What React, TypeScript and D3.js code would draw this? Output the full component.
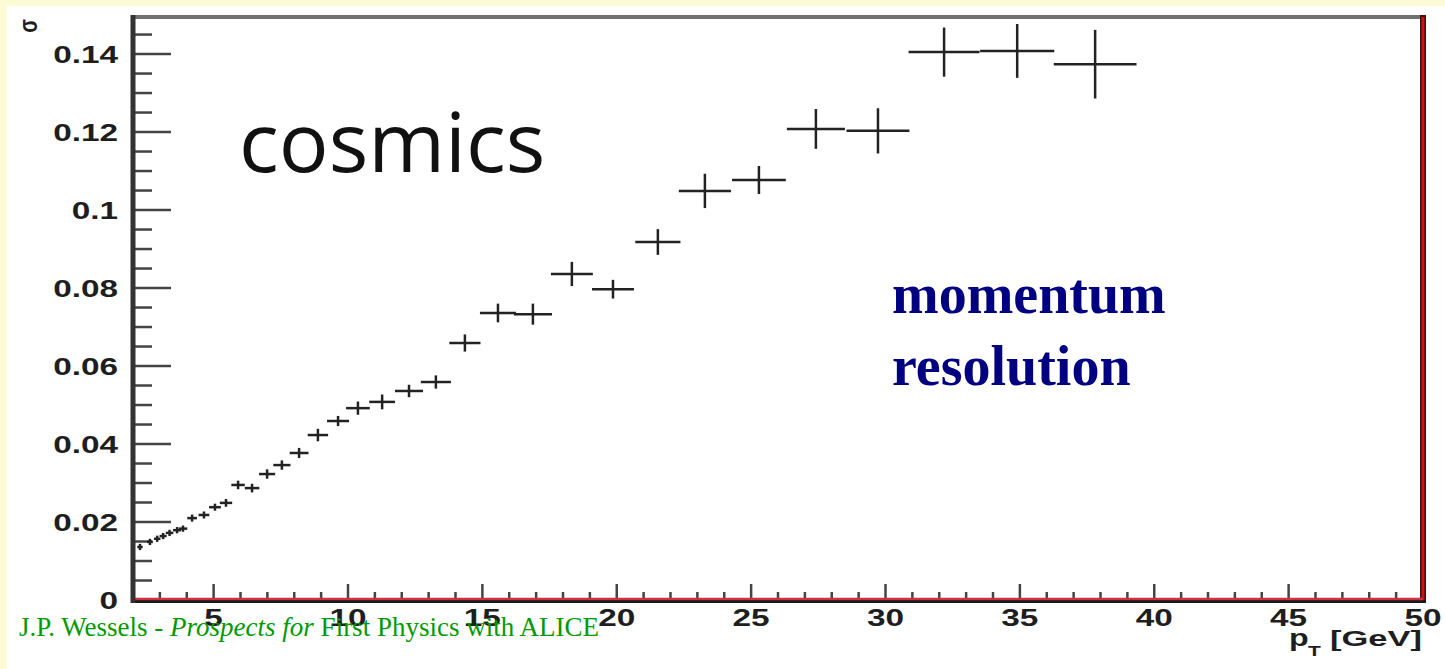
import React from "react";
import * as d3 from "d3";

const ptCenters = [2.26, 2.63, 2.9, 3.12, 3.36, 3.64, 3.86, 4.2, 4.64, 5.05, 5.46, 5.91, 6.43, 6.99, 7.54, 8.18, 8.88, 9.63, 10.37, 11.27, 12.27, 13.27, 14.35, 15.58, 16.88, 18.33, 19.86, 21.53, 23.28, 25.29, 27.41, 29.72, 32.18, 34.9, 37.8];
const ptHalfWidths = [0.1, 0.11, 0.12, 0.13, 0.14, 0.15, 0.16, 0.18, 0.2, 0.22, 0.23, 0.25, 0.27, 0.3, 0.32, 0.35, 0.38, 0.41, 0.44, 0.48, 0.52, 0.56, 0.58, 0.67, 0.71, 0.78, 0.78, 0.84, 0.97, 1.0, 1.08, 1.17, 1.32, 1.38, 1.54];
const sigmaValues = [0.0136, 0.0149, 0.0157, 0.0164, 0.0172, 0.0179, 0.0183, 0.021, 0.0218, 0.0238, 0.0249, 0.0295, 0.0287, 0.0323, 0.0346, 0.0377, 0.0423, 0.0459, 0.0492, 0.0508, 0.0536, 0.0559, 0.0659, 0.0736, 0.0733, 0.0836, 0.0797, 0.0918, 0.1049, 0.1077, 0.1208, 0.1203, 0.1405, 0.1408, 0.1374];
const sigmaErrors = [0.0008, 0.0008, 0.0008, 0.0008, 0.0008, 0.0008, 0.0008, 0.0009, 0.0009, 0.0009, 0.001, 0.0011, 0.0011, 0.0012, 0.0012, 0.0013, 0.0016, 0.0013, 0.0017, 0.0019, 0.0016, 0.0017, 0.0022, 0.0024, 0.0027, 0.0031, 0.0024, 0.0033, 0.0044, 0.0036, 0.0051, 0.0058, 0.0063, 0.0069, 0.0088];

const xTickLabels = [5, 10, 15, 20, 25, 30, 35, 40, 45, 50];
const yTickLabels = ["0", "0.02", "0.04", "0.06", "0.08", "0.1", "0.12", "0.14"];
const yTickValues = [0, 0.02, 0.04, 0.06, 0.08, 0.1, 0.12, 0.14];

const xDomain = [2, 50];
const yDomain = [0, 0.1495];

export default function App() {
  const W = 1445, H = 669;
  const left = 133, right = 1423, top = 17, bottom = 600;
  const x = d3.scaleLinear().domain(xDomain).range([left, right]);
  const y = d3.scaleLinear().domain(yDomain).range([bottom, top]);

  const xMinor = d3.range(3, 50, 1).filter((v) => v % 5 !== 0);
  const yMinor = d3.range(0.005, 0.1495, 0.005).filter((v) => Math.abs(v / 0.02 - Math.round(v / 0.02)) > 0.01);

  const labelFont = "'Liberation Sans', Arial, Helvetica, sans-serif";

  return (
    <svg width={W} height={H} style={{ position: "absolute", left: 0, top: 0 }}>
      <rect x={0} y={0} width={W} height={H} fill="#fdfbd6" />
      <rect x={7} y={6} width={W - 7} height={H - 6} fill="#ffffff" />

      {/* y ticks */}
      {yMinor.map((v, i) => (
        <line key={"ym" + i} x1={left} x2={left + 19} y1={y(v)} y2={y(v)} stroke="#444" strokeWidth={2.5} />
      ))}
      {yTickValues.map((v, i) => (
        <line key={"yM" + i} x1={left} x2={left + 38} y1={y(v)} y2={y(v)} stroke="#444" strokeWidth={2.5} />
      ))}
      {/* x ticks */}
      {xMinor.map((v, i) => (
        <line key={"xm" + i} x1={x(v)} x2={x(v)} y1={bottom} y2={bottom - 8} stroke="#444" strokeWidth={2.5} />
      ))}
      {xTickLabels.map((v, i) => (
        <line key={"xM" + i} x1={x(v)} x2={x(v)} y1={bottom} y2={bottom - 16} stroke="#444" strokeWidth={2.5} />
      ))}

      {/* frame */}
      <line x1={left} x2={right} y1={top} y2={top} stroke="#707070" strokeWidth={4} />
      <line x1={right} x2={right} y1={top - 2} y2={bottom + 3} stroke="#3a1010" strokeWidth={6} />
      <line x1={right} x2={right} y1={top} y2={bottom} stroke="#cc1111" strokeWidth={3} />
      <line x1={left} x2={right + 3} y1={bottom + 1.5} y2={bottom + 1.5} stroke="#1a1a1a" strokeWidth={3} />
      <line x1={left} x2={right} y1={bottom - 1} y2={bottom - 1} stroke="#d03040" strokeWidth={2.5} />
      <line x1={left} x2={left} y1={top - 2} y2={bottom + 3} stroke="#333" strokeWidth={5} />

      {/* data */}
      {ptCenters.map((pt, i) => (
        <g key={"p" + i} stroke="#222" strokeWidth={2.5}>
          <line x1={x(pt - ptHalfWidths[i])} x2={x(pt + ptHalfWidths[i])} y1={y(sigmaValues[i])} y2={y(sigmaValues[i])} />
          <line x1={x(pt)} x2={x(pt)} y1={y(sigmaValues[i] - sigmaErrors[i])} y2={y(sigmaValues[i] + sigmaErrors[i])} />
        </g>
      ))}

      {/* y tick labels */}
      {yTickValues.map((v, i) => (
        <text key={"yl" + i} transform={`translate(118, ${y(v) + 8.5}) scale(1.45,1)`} textAnchor="end"
          fontFamily={labelFont} fontWeight="bold" fontSize={23} fill="#1e1e1e">{yTickLabels[i]}</text>
      ))}
      {/* x tick labels */}
      {xTickLabels.map((v, i) => (
        <text key={"xl" + i} transform={`translate(${x(v)}, 626) scale(1.45,1)`} textAnchor="middle"
          fontFamily={labelFont} fontWeight="bold" fontSize={23} fill="#1e1e1e">{v}</text>
      ))}

      {/* axis titles */}
      <text transform="translate(37, 26) rotate(-90) scale(1,1.3)" textAnchor="middle" fontFamily={labelFont}
        fontWeight="bold" fontSize={20} fill="#1e1e1e">σ</text>
      <text transform="translate(1289, 646) scale(1.4,1)" fontFamily={labelFont} fontWeight="bold" fontSize={23} fill="#1e1e1e">p</text>
      <text transform="translate(1308, 656) scale(1.4,1)" fontFamily={labelFont} fontWeight="bold" fontSize={15} fill="#1e1e1e">T</text>
      <text transform="translate(1330, 646) scale(1.5,1)" fontFamily={labelFont} fontWeight="bold" fontSize={23} fill="#1e1e1e">[GeV]</text>

      {/* annotations */}
      <text x={239} y={172} fontFamily="'Open Sans', 'Noto Sans', sans-serif" fontSize={83} fill="#111">cosmics</text>
      <text x={892} y={313} fontFamily="'Liberation Serif', 'Times New Roman', serif" fontWeight="bold" fontSize={56} fill="#000080">momentum</text>
      <text x={892} y={385} fontFamily="'Liberation Serif', 'Times New Roman', serif" fontWeight="bold" fontSize={56} fill="#000080">resolution</text>

      <text x={19} y={636} fontFamily="'Liberation Serif', 'Times New Roman', serif" fontSize={27} fill="#009a00">
        J.P. Wessels - <tspan fontStyle="italic">Prospects for</tspan> First Physics with ALICE
      </text>
    </svg>
  );
}
